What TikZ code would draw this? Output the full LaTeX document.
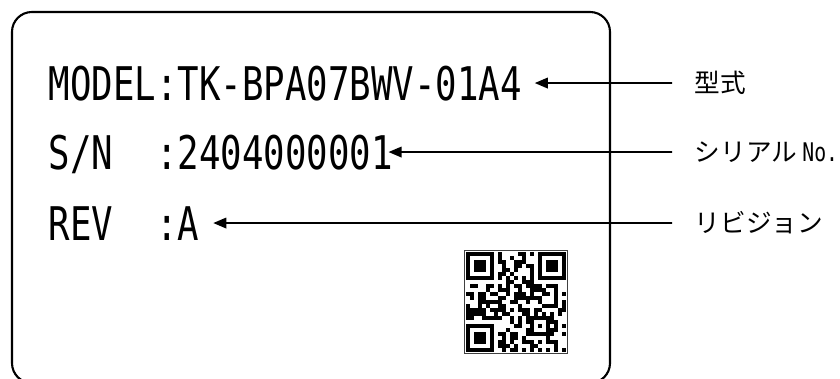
\documentclass[tikz,border=0pt]{standalone}
\usepackage{fontspec}
\usetikzlibrary{arrows.meta}

\newfontfamily\platefont[FakeStretch=0.77]{DejaVu Sans Mono}
\newfontfamily\notefont{Noto Sans CJK JP}

\begin{document}
\begin{tikzpicture}[x=0.02cm, y=-0.02cm, line width=1pt]

    \tikzset{plate/.style={%
      anchor=base west,%
      inner sep=0pt,%
      text height=19.3pt,%
      text depth=0pt,%
      font=\platefont\fontsize{26.4pt}{30pt}\selectfont}%
    };

    \tikzset{note/.style={anchor=west, inner xsep=12.5pt, inner ysep=0pt,
      font=\notefont\fontsize{14.6pt}{17pt}\selectfont}};

    \tikzset{pointer/.style={-{Triangle[length=7.4pt, width=6pt]}}};

    \path[use as bounding box, clip] (0, 0) rectangle (840, 379);

    %%%%%%%%%%%%%%
    % name plate %
    %%%%%%%%%%%%%%
    \draw[line width=1.2pt, rounded corners=11.3pt] (12, 12) rectangle (610, 383);

    \path (48, 100) node [plate] (model) {MODEL:TK-BPA07BWV-01A4};

    \path (48, 169) node [plate] (serial) {S/N\ \ :2404000001};

    \path (48, 240) node [plate] (rev) {REV\ \ :A};

    %%%%%%%%%
    % notes %
    %%%%%%%%%
    \path (672, 83) node [note] (kata) {型式};

    \path (672, 152) node [note] (sn) {シリアル\kern3pt{\platefont No.}};

    \path (672, 223) node [note] (rv) {リビジョン};

    \draw [pointer, shorten >=6.8pt] (kata.west) -- (model.east);
    \draw [pointer, shorten >=-3pt] (sn.west) -- (serial.east);
    \draw [pointer, shorten >=7.4pt] (rv.west) -- (rev.east);

    %%%%%%%%%%%
    % qr code %
    %%%%%%%%%%%
    \draw[line width=0.5pt, black!75] (464, 250) rectangle (567, 353);

    \pgfmathsetseed{2404}
    \foreach \i in {0,...,24} {
      \foreach \j in {0,...,24} {
        \pgfmathtruncatemacro{\qrskip}{(\i<8 && \j<8) || (\i>16 && \j<8) || (\i<8 && \j>16) || (\i>15 && \i<21 && \j>15 && \j<21)}
        \pgfmathtruncatemacro{\qrdark}{(\i==6 || \j==6) ? (mod(\i+\j,2)==0) : (rnd<0.5)}
        \ifnum\qrskip=0 \ifnum\qrdark=1
          \fill (465.5+4*\i, 251.5+4*\j) rectangle ++(4, 4);
        \fi\fi
      }
    }

    \foreach \fx/\fy in {0/0, 18/0, 0/18} {
      \fill (465.5+4*\fx, 251.5+4*\fy) rectangle ++(28, 28);
      \fill[white] (469.5+4*\fx, 255.5+4*\fy) rectangle ++(20, 20);
      \fill (473.5+4*\fx, 259.5+4*\fy) rectangle ++(12, 12);
    }

    \fill (529.5, 315.5) rectangle ++(20, 20);
    \fill[white] (533.5, 319.5) rectangle ++(12, 12);
    \fill (537.5, 323.5) rectangle ++(4, 4);

  \end{tikzpicture}
\end{document}
